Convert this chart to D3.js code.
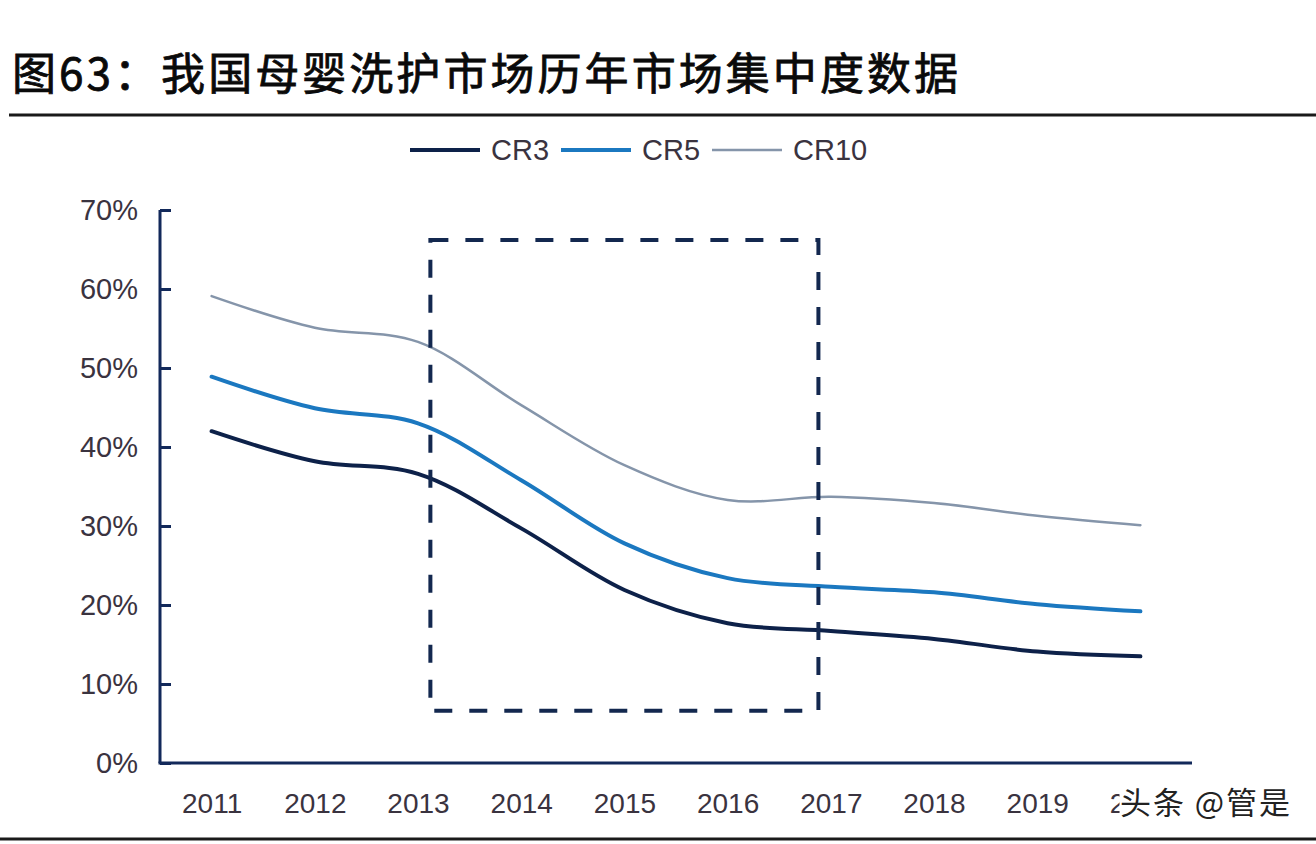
<!DOCTYPE html>
<html>
<head>
<meta charset="utf-8">
<script src="https://cdn.jsdelivr.net/npm/d3@7"></script>
<style>
  html, body { margin: 0; padding: 0; background: #fff; }
  svg { display: block; }
</style>
</head>
<body>
<div id="chartArea"></div>
<script>
// data
const years = [2011, 2012, 2013, 2014, 2015, 2016, 2017, 2018, 2019, 2020];
const cr3  = [42.0, 38.2, 36.6, 29.7, 21.9, 17.7, 16.7, 15.7, 14.1, 13.5];
const cr5  = [48.9, 44.9, 43.0, 35.8, 27.8, 23.4, 22.3, 21.6, 20.1, 19.2];
const cr10 = [59.1, 55.1, 53.3, 45.3, 37.7, 33.3, 33.7, 32.9, 31.3, 30.1];
const yTicks = [0, 10, 20, 30, 40, 50, 60, 70];
const seriesNames = ["CR3", "CR5", "CR10"];
// highlighted period box (years / percent)
const boxYears = [2013.12, 2016.88];
const boxValues = [6.6, 66.2];

const W = 1316, H = 844;
const svg = d3.select("#chartArea").append("svg")
  .attr("width", W)
  .attr("height", H);

svg.append("rect").attr("width", W).attr("height", H).attr("fill", "#fff");

// title
svg.append("text")
  .attr("x", 12)
  .attr("y", 90)
  .attr("font-family", "'Noto Sans CJK SC', sans-serif")
  .attr("font-size", 44)
  .attr("fill", "#0a0a0a")
  .attr("stroke", "#0a0a0a")
  .attr("stroke-width", 0.8)
  .attr("textLength", 946)
  .attr("lengthAdjust", "spacing")
  .text("图63：我国母婴洗护市场历年市场集中度数据");

// rules top & bottom
svg.append("line").attr("x1", 9).attr("x2", W).attr("y1", 115).attr("y2", 115)
  .attr("stroke", "#1a1a1a").attr("stroke-width", 3);
svg.append("line").attr("x1", 0).attr("x2", W).attr("y1", 839).attr("y2", 839)
  .attr("stroke", "#1a1a1a").attr("stroke-width", 3);

// scales
const x = d3.scaleLinear().domain([2010.5, 2020.5]).range([160, 1192]);
const y = d3.scaleLinear().domain([0, 70]).range([763, 210]);

const axisColor = "#12295a";
const labelColor = "#3a333f";

// y axis
const yAxis = svg.append("g")
  .attr("transform", "translate(160,0)")
  .call(d3.axisLeft(y).tickValues(yTicks).tickSize(-11).tickPadding(22)
    .tickFormat(d => d + "%"));
yAxis.select(".domain").attr("stroke", axisColor).attr("stroke-width", 3)
  .attr("d", "M0," + y(70) + "V" + y(0));
yAxis.selectAll(".tick line").attr("stroke", axisColor).attr("stroke-width", 3);
yAxis.selectAll(".tick text")
  .attr("font-family", "'Liberation Sans', Arial, sans-serif")
  .attr("font-size", 29)
  .attr("fill", labelColor);

// x axis, last label partly hidden under the watermark
const lastYear = years[years.length - 1];
const cutX = 1119;
svg.append("clipPath").attr("id", "xclip")
  .append("rect")
  .attr("x", -100).attr("y", 0)
  .attr("width", cutX - x(lastYear) + 100).attr("height", 80);
const xAxis = svg.append("g")
  .attr("transform", "translate(0,763)")
  .call(d3.axisBottom(x).tickValues(years).tickSize(0).tickPadding(30)
    .tickFormat(d3.format("d")));
xAxis.select(".domain").attr("stroke", axisColor).attr("stroke-width", 3)
  .attr("d", "M158.5,0H1192");
xAxis.selectAll(".tick text")
  .attr("font-family", "'Liberation Sans', Arial, sans-serif")
  .attr("font-size", 28)
  .attr("fill", labelColor);
xAxis.selectAll(".tick").filter(d => d === lastYear).attr("clip-path", "url(#xclip)");

// lines
const series = [
  { name: "CR3", values: cr3, color: "#0d2149", width: 4 },
  { name: "CR5", values: cr5, color: "#1b78c0", width: 4 },
  { name: "CR10", values: cr10, color: "#8595aa", width: 2.5 }
];

const line = d3.line()
  .x((d, i) => x(years[i]))
  .y(d => y(d))
  .curve(d3.curveCatmullRom.alpha(0.5));

svg.selectAll("path.series")
  .data(series)
  .enter()
  .append("path")
  .attr("class", "series")
  .attr("fill", "none")
  .attr("stroke", d => d.color)
  .attr("stroke-width", d => d.width)
  .attr("stroke-linecap", "round")
  .attr("d", d => line(d.values));

// dashed box
svg.append("rect")
  .attr("x", x(boxYears[0]))
  .attr("y", y(boxValues[1]))
  .attr("width", x(boxYears[1]) - x(boxYears[0]))
  .attr("height", y(boxValues[0]) - y(boxValues[1]))
  .attr("fill", "none")
  .attr("stroke", "#13284f")
  .attr("stroke-width", 4)
  .attr("stroke-dasharray", "18,17");

// legend
const legendX = [410, 561, 712];
const lg = svg.selectAll("g.legend")
  .data(series)
  .enter()
  .append("g")
  .attr("class", "legend")
  .attr("transform", (d, i) => "translate(" + legendX[i] + ",150)");
lg.append("line")
  .attr("x1", 0).attr("x2", 70)
  .attr("stroke", d => d.color)
  .attr("stroke-width", d => d.width);
lg.append("text")
  .attr("x", 81)
  .attr("y", 10)
  .attr("font-family", "'Liberation Sans', Arial, sans-serif")
  .attr("font-size", 29)
  .attr("fill", labelColor)
  .text((d, i) => seriesNames[i]);

// watermark
svg.append("text")
  .attr("x", cutX + 1)
  .attr("y", 814)
  .attr("font-family", "'Noto Sans CJK SC', sans-serif")
  .attr("font-size", 31)
  .attr("fill", "#222")
  .attr("textLength", 170)
  .attr("lengthAdjust", "spacing")
  .text("头条 @管是");
</script>
</body>
</html>
